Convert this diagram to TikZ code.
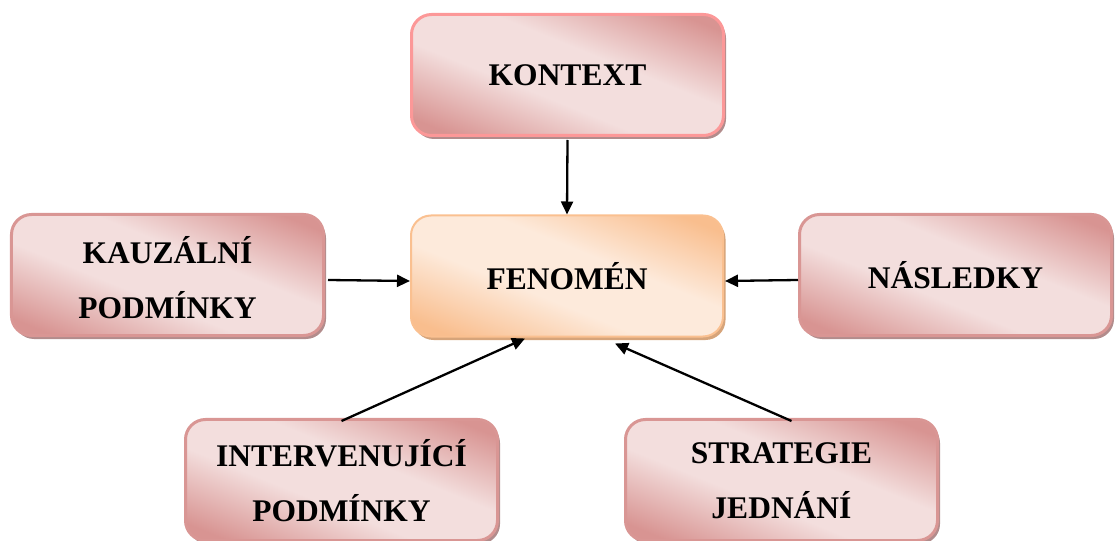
\documentclass[tikz,border=0pt]{standalone}
\usepackage{fontspec}
\setmainfont{Liberation Serif}
\usetikzlibrary{arrows.meta,shadows,calc}
\definecolor{pdark}{RGB}{216,148,146}
\definecolor{plight}{RGB}{243,222,221}
\definecolor{pborder}{RGB}{217,150,148}
\definecolor{kborder}{RGB}{252,152,152}
\definecolor{pshadow}{RGB}{178,140,140}
\definecolor{odark}{RGB}{249,190,142}
\definecolor{olight}{RGB}{253,234,219}
\definecolor{oborder}{RGB}{250,192,144}
\definecolor{oshadow}{RGB}{214,164,122}
\pgfdeclarehorizontalshading{pinkshade}{100bp}{color(0bp)=(pdark); color(22bp)=(pdark); color(42bp)=(plight); color(58bp)=(plight); color(78bp)=(pdark); color(100bp)=(pdark)}
\pgfdeclarehorizontalshading{orangeshade}{100bp}{color(0bp)=(odark); color(22bp)=(odark); color(42bp)=(olight); color(58bp)=(olight); color(78bp)=(odark); color(100bp)=(odark)}
\tikzset{
  box/.style={rounded corners=20bp, minimum width=312bp, minimum height=121bp, inner sep=0pt, line width=3bp},
  txt/.style={inner sep=0pt, align=center, font=\fontsize{31.5bp}{55bp}\selectfont\bfseries},
  pinkbox/.style={box, draw=pborder, shading=pinkshade, shading angle=68,
    drop shadow={shadow xshift=2.5bp, shadow yshift=-3.5bp, fill=pshadow, opacity=1}},
  orangebox/.style={box, draw=oborder, line width=2bp, shading=orangeshade, shading angle=68,
    drop shadow={shadow xshift=2.5bp, shadow yshift=-3.5bp, fill=oshadow, opacity=1}},
  conn/.style={line width=2.3bp, -{Triangle[length=13bp,width=12bp]}}
}
\begin{document}
\begin{tikzpicture}[x=1bp,y=-1bp]
\useasboundingbox (0,0) rectangle (1115,541);
\node[pinkbox, draw=kborder] (kon) at (567.5,75) {};
\node[txt] (kon-t) at (kon.center) {KONTEXT};
\node[orangebox] (fen) at (567,276) {};
\node[txt] (fen-t) at (fen.center) {FENOMÉN};
\node[pinkbox] (kau) at (167.5,275) {};
\node[txt, yshift=-3bp] (kau-t) at (kau.center) {KAUZÁLNÍ\\PODMÍNKY};
\node[pinkbox] (nas) at (955.5,275) {};
\node[txt] (nas-t) at (nas.center) {NÁSLEDKY};
\node[pinkbox] (int) at (341.5,480) {};
\node[txt, yshift=-1bp] (int-t) at (int.center) {INTERVENUJÍCÍ\\PODMÍNKY};
\node[pinkbox] (str) at (781.5,480) {};
\node[txt, yshift=-1bp] (str-t) at (str.center) {STRATEGIE\\JEDNÁNÍ};
\draw[conn] ([yshift=-3bp]kon.south) -- (fen.north);
\draw[conn] ([xshift=3bp,yshift=-5bp]kau.east) -- ([yshift=-5bp]fen.west);
\draw[conn] ([yshift=-5bp]nas.west) -- ([xshift=1bp,yshift=-5bp]fen.east);
\draw[conn] ([yshift=-3bp]int.north) -- ([xshift=-42bp,yshift=-1bp]fen.south);
\draw[conn] ([xshift=10bp,yshift=-3bp]str.north) -- ([xshift=48bp,yshift=-6bp]fen.south);
\end{tikzpicture}
\end{document}
